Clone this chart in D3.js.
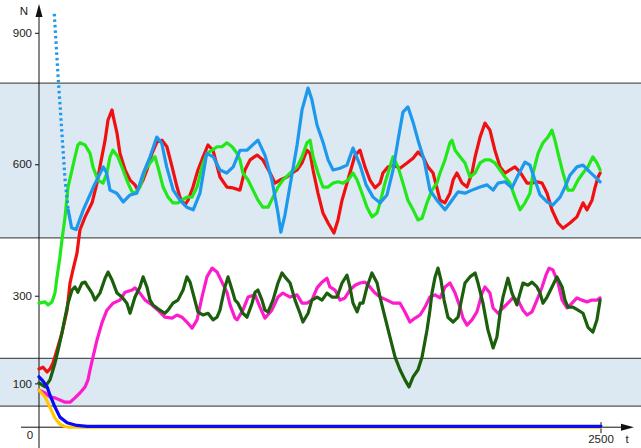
<!DOCTYPE html>
<html>
<head>
<meta charset="utf-8">
<script src="https://cdn.jsdelivr.net/npm/d3@7"></script>
<style>
  html, body { margin: 0; padding: 0; background: #fff; }
  svg { display: block; }
</style>
</head>
<body>
<div id="viz"></div>
<script>
// y-axis ticks and x-axis ticks
const yTicks = [100, 300, 600, 900];
const xTicks = [2500];
// shaded bands [low, high]
const bands = [[432, 785], [48, 157]];

// series as [t, N] pairs
const redSeries = [[0,133],[18,137],[36,126],[49,133],[62,146],[80,176],[102,215],[125,267],[138,329],[151,359],[169,397],[182,450],[205,480],[236,512],[258,557],[271,594],[294,655],[307,701],[325,724],[329,712],[347,671],[360,625],[383,587],[405,564],[427,553],[440,541],[463,564],[480,587],[503,625],[525,651],[547,655],[569,640],[592,594],[614,548],[627,525],[649,507],[663,518],[685,548],[707,587],[730,617],[752,644],[774,632],[805,571],[836,548],[863,546],[894,541],[916,587],[939,610],[970,621],[996,610],[1028,580],[1050,557],[1072,564],[1103,571],[1125,580],[1148,587],[1170,603],[1192,632],[1206,625],[1219,587],[1241,534],[1263,489],[1286,466],[1312,443],[1330,473],[1348,518],[1361,541],[1383,580],[1406,621],[1428,632],[1450,594],[1472,564],[1495,546],[1517,557],[1530,580],[1552,594],[1575,598],[1606,591],[1637,603],[1664,614],[1686,628],[1708,617],[1730,594],[1753,580],[1784,518],[1806,512],[1828,534],[1842,564],[1859,580],[1882,557],[1904,548],[1926,580],[1940,617],[1962,662],[1984,694],[2006,678],[2028,632],[2051,594],[2073,580],[2095,587],[2117,594],[2140,582],[2171,557],[2193,557],[2215,560],[2238,557],[2260,534],[2282,496],[2309,466],[2331,454],[2362,466],[2393,480],[2420,512],[2438,496],[2460,518],[2473,546],[2487,571],[2496,580]];

const greenSeries = [[0,283],[27,286],[40,279],[58,286],[71,306],[80,342],[93,388],[102,427],[116,480],[129,548],[147,587],[160,617],[173,644],[182,649],[205,644],[227,625],[240,594],[262,564],[285,557],[302,580],[316,617],[329,632],[351,617],[374,587],[396,557],[414,537],[427,534],[449,548],[472,587],[494,603],[516,617],[529,594],[552,548],[574,525],[596,512],[618,512],[636,518],[658,525],[681,525],[703,548],[725,594],[747,625],[770,632],[792,640],[814,640],[836,649],[859,640],[881,625],[894,610],[907,580],[930,564],[952,541],[974,518],[996,502],[1019,502],[1041,525],[1063,548],[1085,564],[1117,580],[1148,594],[1170,617],[1192,649],[1206,655],[1219,617],[1241,580],[1263,548],[1286,548],[1308,557],[1330,560],[1352,557],[1375,564],[1397,580],[1415,564],[1437,534],[1459,502],[1481,480],[1504,489],[1517,512],[1539,557],[1561,594],[1575,617],[1597,594],[1619,557],[1641,518],[1664,496],[1686,473],[1704,477],[1726,512],[1748,541],[1770,557],[1784,580],[1806,610],[1828,649],[1837,655],[1851,632],[1873,617],[1895,603],[1917,571],[1940,580],[1962,603],[1984,610],[2006,610],[2028,603],[2051,587],[2073,571],[2095,557],[2117,525],[2140,496],[2162,512],[2184,534],[2198,580],[2220,625],[2242,649],[2264,662],[2282,678],[2295,655],[2309,625],[2331,580],[2353,541],[2375,541],[2398,564],[2420,580],[2442,594],[2464,617],[2482,603],[2496,587]];

// first stretch of the sky-blue series falls fast, drawn as sparse dots
const skyEarly = [[68,943],[86,792],[101,678],[116,564],[130,496]];
const skySeries = [[130,496],[145,455],[165,451],[197,496],[242,548],[286,594],[301,580],[316,541],[346,534],[375,514],[405,530],[435,534],[464,580],[494,617],[524,662],[546,648],[568,594],[597,541],[627,518],[657,502],[686,496],[716,534],[746,625],[775,617],[805,587],[835,580],[864,594],[894,632],[925,632],[974,655],[1005,621],[1036,564],[1063,489],[1076,445],[1094,484],[1121,564],[1148,644],[1170,724],[1197,774],[1214,747],[1237,689],[1263,651],[1286,610],[1308,587],[1339,591],[1370,598],[1397,637],[1428,598],[1455,553],[1486,525],[1517,512],[1548,530],[1575,587],[1597,655],[1619,719],[1641,731],[1664,696],[1686,655],[1713,610],[1739,541],[1770,518],[1806,496],[1837,518],[1864,537],[1895,534],[1926,541],[1962,548],[1993,553],[2020,541],[2042,557],[2073,560],[2104,546],[2131,575],[2162,605],[2184,598],[2206,564],[2229,530],[2260,514],[2286,507],[2318,525],[2340,548],[2362,575],[2393,594],[2420,598],[2451,582],[2478,569],[2496,560]];

const forestSeries = [[0,101],[27,92],[49,108],[71,146],[85,176],[102,215],[116,251],[129,283],[147,313],[160,320],[173,308],[191,329],[205,331],[218,320],[236,306],[249,290],[271,306],[294,340],[307,354],[325,336],[347,306],[369,297],[391,283],[405,260],[427,297],[449,320],[463,343],[480,320],[494,290],[507,279],[538,267],[560,260],[574,267],[596,283],[618,290],[641,313],[658,343],[672,331],[685,306],[707,263],[730,256],[752,260],[774,245],[792,251],[805,267],[827,320],[841,343],[859,313],[872,290],[885,283],[907,260],[925,251],[948,283],[961,308],[974,313],[992,290],[1005,267],[1019,263],[1041,290],[1063,329],[1081,352],[1094,343],[1117,329],[1139,290],[1161,260],[1174,240],[1197,260],[1214,290],[1237,297],[1259,290],[1281,306],[1303,297],[1326,297],[1348,329],[1370,347],[1383,320],[1397,283],[1415,263],[1428,283],[1441,283],[1459,320],[1481,352],[1504,329],[1517,297],[1539,251],[1561,206],[1584,160],[1606,131],[1628,108],[1646,92],[1664,115],[1686,131],[1704,160],[1726,222],[1739,267],[1748,306],[1762,343],[1775,363],[1788,336],[1802,290],[1819,251],[1842,240],[1864,251],[1882,297],[1895,329],[1917,343],[1940,352],[1953,329],[1975,283],[1997,222],[2020,181],[2037,206],[2051,260],[2064,297],[2086,340],[2104,306],[2126,279],[2140,306],[2153,329],[2175,324],[2193,331],[2215,320],[2229,306],[2242,283],[2260,297],[2282,320],[2304,343],[2327,320],[2340,290],[2353,274],[2375,274],[2398,267],[2420,260],[2442,228],[2464,217],[2482,245],[2496,290]];

const magentaSeries = [[0,85],[27,78],[49,69],[71,67],[93,62],[116,57],[138,57],[160,67],[182,78],[205,92],[218,108],[227,131],[240,160],[258,199],[280,238],[302,267],[329,283],[360,290],[383,308],[414,313],[427,318],[449,306],[472,290],[503,279],[529,267],[560,251],[592,249],[614,256],[636,251],[658,240],[681,226],[703,245],[725,297],[747,343],[770,363],[792,354],[814,331],[836,308],[850,279],[872,249],[881,245],[907,267],[930,297],[961,302],[983,274],[1005,249],[1036,267],[1063,297],[1085,306],[1117,297],[1148,302],[1170,283],[1192,283],[1214,290],[1237,318],[1259,331],[1281,340],[1294,320],[1317,313],[1339,290],[1361,295],[1383,313],[1406,324],[1428,329],[1450,331],[1472,320],[1495,306],[1517,297],[1548,290],[1575,283],[1606,283],[1628,263],[1650,240],[1673,249],[1695,256],[1717,274],[1739,297],[1762,302],[1784,295],[1806,320],[1828,329],[1851,306],[1873,274],[1886,249],[1904,233],[1926,245],[1948,263],[1971,306],[1984,320],[2006,306],[2020,272],[2042,260],[2064,272],[2086,283],[2108,295],[2131,290],[2153,267],[2171,256],[2193,263],[2215,290],[2238,320],[2255,347],[2269,363],[2286,359],[2309,329],[2327,290],[2349,272],[2371,283],[2393,295],[2415,290],[2438,286],[2460,290],[2482,290],[2496,295]];

const yellowSeries = [[0,85],[27,69],[40,55],[58,35],[71,21],[93,7],[116,1],[140,0],[2500,0]];
const blueSeries = [[0,115],[18,105],[36,92],[49,73],[71,46],[93,23],[125,10],[169,4],[214,2],[2500,2]];

const seriesList = [
  { name: 'red', data: redSeries, color: '#f01010' },
  { name: 'green', data: greenSeries, color: '#22e81a' },
  { name: 'sky', data: skySeries, color: '#1c98ec' },
  { name: 'skyEarly', data: skyEarly, color: '#1c98ec', dash: '2.5 3' },
  { name: 'magenta', data: magentaSeries, color: '#fc1ccc' },
  { name: 'forest', data: forestSeries, color: '#1b5e0c' },
  { name: 'yellow', data: yellowSeries, color: '#ffc800' },
  { name: 'blue', data: blueSeries, color: '#0a0af5' }
];

const width = 641;
const height = 448;
const FONT = 'Liberation Sans, Arial, sans-serif';

const x = d3.scaleLinear().domain([0, 2500]).range([39, 601]);
const y = d3.scaleLinear().domain([0, 900]).range([427.2, 32.8]);

const svg = d3.select('#viz')
  .append('svg')
  .attr('width', width)
  .attr('height', height)
  .style('font-family', FONT);

// bands
svg.selectAll('rect.band')
  .data(bands)
  .enter()
  .append('rect')
  .attr('class', 'band')
  .attr('x', 0)
  .attr('width', width)
  .attr('y', d => y(d[1]))
  .attr('height', d => y(d[0]) - y(d[1]))
  .attr('fill', '#dce8f2');

bands.forEach(b => {
  b.forEach(v => {
    svg.append('line')
      .attr('x1', 0).attr('x2', width)
      .attr('y1', y(v)).attr('y2', y(v))
      .attr('stroke', '#555')
      .attr('stroke-width', 1.3);
  });
});

// axes lines
const x0 = x(0);
const y0 = y(0);
svg.append('line')
  .attr('x1', x0).attr('x2', x0)
  .attr('y1', height).attr('y2', 14)
  .attr('stroke', '#111').attr('stroke-width', 1);
svg.append('path')
  .attr('d', `M${x0},4 L${x0 - 3.5},17 L${x0 + 3.5},17 Z`)
  .attr('fill', '#111');

svg.append('line')
  .attr('x1', 21).attr('x2', 624)
  .attr('y1', y0).attr('y2', y0)
  .attr('stroke', '#111').attr('stroke-width', 1);
svg.append('path')
  .attr('d', `M634,${y0} L621,${y0 - 3.5} L621,${y0 + 3.5} Z`)
  .attr('fill', '#111');

// y ticks
const yAxis = d3.axisLeft(y).tickValues(yTicks).tickSize(4).tickPadding(3);
const gy = svg.append('g').attr('transform', `translate(${x0},0)`).call(yAxis);
gy.select('.domain').remove();
gy.selectAll('text').attr('fill', '#222').style('font-size', '11.5px').style('font-family', FONT);
gy.selectAll('line').attr('stroke', '#111');

// x ticks
xTicks.forEach(v => {
  svg.append('line')
    .attr('x1', x(v)).attr('x2', x(v))
    .attr('y1', y0 - 5).attr('y2', y0 + 6)
    .attr('stroke', '#111');
  svg.append('text')
    .attr('x', x(v)).attr('y', y0 + 16)
    .attr('text-anchor', 'middle')
    .attr('fill', '#222')
    .style('font-size', '11.5px')
    .text(v);
});

svg.append('text').attr('x', 30).attr('y', y0 + 12).attr('text-anchor', 'middle')
  .attr('fill', '#222').style('font-size', '11.5px').text('0');
svg.append('text').attr('x', 627).attr('y', y0 + 16).attr('text-anchor', 'middle')
  .attr('fill', '#222').style('font-size', '11.5px').text('t');
svg.append('text').attr('x', 24).attr('y', 15).attr('text-anchor', 'middle')
  .attr('fill', '#222').style('font-size', '11.5px').text('N');

// series
const line = d3.line()
  .x(d => x(d[0]))
  .y(d => y(d[1]));

svg.selectAll('path.series')
  .data(seriesList)
  .enter()
  .append('path')
  .attr('class', 'series')
  .attr('d', d => line(d.data))
  .attr('fill', 'none')
  .attr('stroke', d => d.color)
  .attr('stroke-width', 3.2)
  .attr('stroke-dasharray', d => d.dash || null)
  .attr('stroke-linejoin', 'round')
  .attr('stroke-linecap', d => (d.dash ? 'butt' : 'round'));
</script>
</body>
</html>
